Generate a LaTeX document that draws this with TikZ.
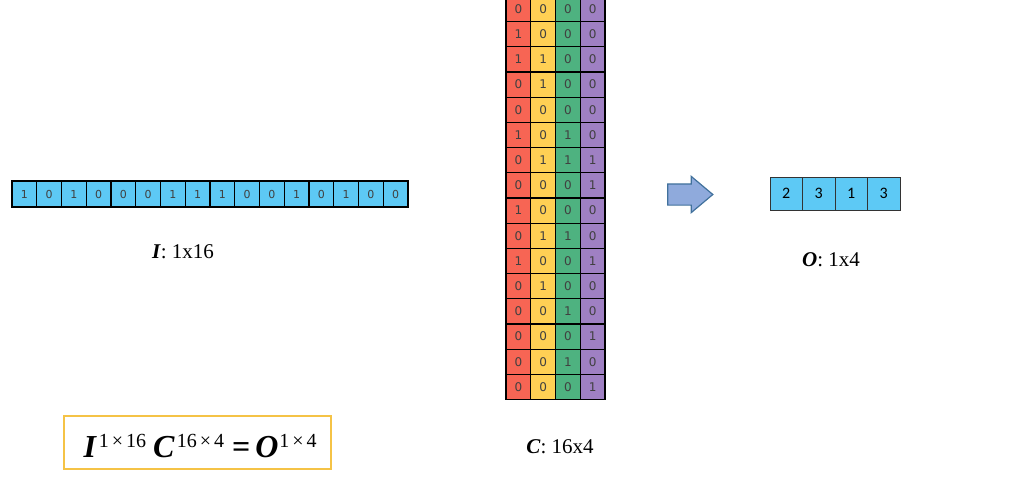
\documentclass[tikz,border=0pt]{standalone}
\usepackage{fontspec}
\setmainfont{Liberation Serif}
\newfontfamily\cellfont{DejaVu Sans}
\newfontfamily\outfont{Carlito}
\usetikzlibrary{shapes.arrows}

\definecolor{cellblue}{RGB}{93,201,245}
\definecolor{colred}{RGB}{247,101,84}
\definecolor{colyellow}{RGB}{255,208,84}
\definecolor{colgreen}{RGB}{78,178,128}
\definecolor{colpurple}{RGB}{159,128,195}
\definecolor{arrowfill}{RGB}{143,170,220}
\definecolor{arrowline}{RGB}{65,113,156}
\definecolor{boxgold}{RGB}{245,195,70}

\newcommand{\dimsup}[1]{\raisebox{10pt}{\fontsize{20}{20}\selectfont #1}}

\begin{document}
\begin{tikzpicture}[
        x=1pt, y=-1pt,
        bit/.style={rectangle, draw=black, line width=1.2pt, inner sep=0pt, text=black!75},
        inbit/.style={bit, fill=cellblue, minimum width=24.75pt, minimum height=26pt, font=\cellfont\fontsize{11}{11}\selectfont},
        cbit/.style={bit, minimum width=24.75pt, minimum height=25.2pt, font=\cellfont\fontsize{12}{12}\selectfont},
        outbit/.style={rectangle, draw=black!80, line width=0.8pt, fill=cellblue, inner sep=0pt, minimum width=32.5pt, minimum height=33pt, font=\outfont\fontsize{16}{16}\selectfont},
        label/.style={font=\fontsize{21}{21}\selectfont}
    ]
        \useasboundingbox (0,0) rectangle (1027,490);

        % Input vector I (1x16)
        \foreach \v [count=\i] in {1,0,1,0,0,0,1,1,1,0,0,1,0,1,0,0}
            \node[inbit] (i\i) at ({12+24.75*(\i-0.5)}, 194) {\v};
        \node[label] (ilabel) at (183, 252) {\textbf{\textit{I}}: 1x16};

        % Codebook C (16x4), one colour per column
        \foreach \a/\b/\c/\d [count=\r] in {0/0/0/0, 1/0/0/0, 1/1/0/0, 0/1/0/0,
                                            0/0/0/0, 1/0/1/0, 0/1/1/1, 0/0/0/1,
                                            1/0/0/0, 0/1/1/0, 1/0/0/1, 0/1/0/0,
                                            0/0/1/0, 0/0/0/1, 0/0/1/0, 0/0/0/1} {
            \node[cbit, fill=colred]    (c\r-1) at (518.4, {9+25.2*(\r-1)}) {\a};
            \node[cbit, fill=colyellow] (c\r-2) at (543.1, {9+25.2*(\r-1)}) {\b};
            \node[cbit, fill=colgreen]  (c\r-3) at (567.9, {9+25.2*(\r-1)}) {\c};
            \node[cbit, fill=colpurple] (c\r-4) at (592.6, {9+25.2*(\r-1)}) {\d};
        }
        \node[label] (clabel) at (560, 447) {\textbf{\textit{C}}: 16x4};

        % Block arrow
        \node[single arrow, draw=arrowline, fill=arrowfill, line width=1.2pt,
              inner xsep=0pt, inner ysep=10pt, minimum height=45pt,
              single arrow head extend=7.5pt, single arrow tip angle=80] (next) at (684, 194.5) {};

        % Output O (1x4)
        \foreach \v [count=\i] in {2,3,1,3}
            \node[outbit] (o\i) at ({770+32.5*(\i-0.5)}, 193.5) {\v};
        \node[label] (olabel) at (831, 260) {\textbf{\textit{O}}: 1x4};

        % Equation
        \node[draw=boxgold, line width=1.5pt, minimum width=267pt, minimum height=53pt] (eqbox) at (197.5, 442.5) {};
        \node[anchor=west, font=\fontsize{32}{32}\selectfont] (eq) at (80, 446)
            {\textbf{\textit{I}}\hspace{2pt}\dimsup{1\hspace{3pt}×\hspace{3pt}16}\hspace{7pt}\textbf{\textit{C}}\hspace{2pt}\dimsup{16\hspace{3pt}×\hspace{3pt}4}\hspace{8pt}\textbf{=}\hspace{5pt}\textbf{\textit{O}}\hspace{1pt}\dimsup{1\hspace{3pt}×\hspace{3pt}4}};

    \end{tikzpicture}
\end{document}
